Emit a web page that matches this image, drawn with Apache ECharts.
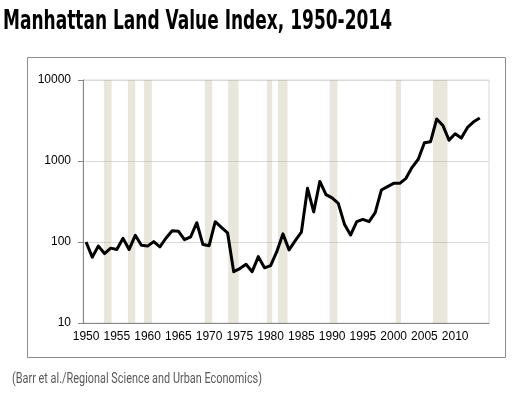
<!DOCTYPE html>
<html><head><meta charset="utf-8">
<script src="https://cdn.jsdelivr.net/npm/echarts@6/dist/echarts.min.js"></script>
<style>html,body{margin:0;padding:0;background:#fff}#c{width:532px;height:398px}</style>
</head><body><div id="c"></div>
<script>
const years = [];
for (let y = 1950; y <= 2015; y++) years.push(String(y));
const indexValues = [100, 65, 89, 72, 84, 81, 111, 81, 121, 91,
  89, 101, 87, 112, 138, 136, 107, 116, 173, 93,
  90, 178, 152, 130, 43, 47, 53, 43, 66, 48,
  51, 76, 126, 80, 104, 132, 460, 235, 560, 385,
  350, 300, 166, 122, 178, 190, 178, 230, 438, 482,
  530, 530, 611, 836, 1050, 1680, 1730, 3300, 2750, 1810,
  2170, 1920, 2600, 3050, 3400];
const recessionStart = [1953.4, 1957.3, 1959.9, 1969.8, 1973.6, 1979.9, 1981.7, 1990.1, 2000.85, 2006.9];
const recessionEnd   = [1954.65, 1958.5, 1961.2, 1971.0, 1975.3, 1980.75, 1983.25, 1991.35, 2001.7, 2009.25];
const titleText = 'Manhattan Land Value Index, 1950-2014';
const sourceText = '(Barr et al./Regional Science and Urban Economics)';

const titleFont = 'bold 26px "DejaVu Sans"';
const sourceFont = '14px "Roboto"';
const ctx = document.createElement('canvas').getContext('2d');
function fitScale(text, font, width) { ctx.font = font; return width / ctx.measureText(text).width; }

const chart = echarts.init(document.getElementById('c'), null, {renderer: 'canvas'});
const areas = recessionStart.map((s, i) => [{xAxis: s}, {xAxis: recessionEnd[i]}]);
chart.setOption({
  animation: false,
  backgroundColor: '#fff',
  graphic: [
    {type: 'rect', shape: {x: 27.5, y: 57.5, width: 478, height: 300}, style: {fill: 'none', stroke: '#8c8c8c', lineWidth: 1}, z: -1},
    {type: 'text', x: 3, y: 9, scaleX: fitScale(titleText, titleFont, 389),
      style: {text: titleText, font: titleFont, fill: '#000', textVerticalAlign: 'top'}},
    {type: 'text', x: 12, y: 372, scaleX: fitScale(sourceText, sourceFont, 250),
      style: {text: sourceText, font: sourceFont, fill: '#595959', textVerticalAlign: 'top'}}
  ],
  grid: {left: 83, right: 43, top: 80, bottom: 75, show: true, borderColor: '#d9d9d9', borderWidth: 1, backgroundColor: 'transparent'},
  xAxis: [{
    type: 'category', data: years, boundaryGap: true,
    axisLine: {lineStyle: {color: '#868686'}},
    axisTick: {interval: 4, length: 5, lineStyle: {color: '#868686'}},
    axisLabel: {interval: 4, color: '#000', fontFamily: 'Liberation Sans', fontSize: 12, margin: 8,
      formatter: v => (v === '2015' ? '' : v)},
    splitLine: {show: false}
  }, {
    type: 'value', min: 1950, max: 2016, show: false
  }],
  yAxis: {
    type: 'log', logBase: 10, min: 10, max: 10000,
    axisLine: {show: true, lineStyle: {color: '#868686'}},
    axisTick: {show: true, length: 5, lineStyle: {color: '#868686'}},
    axisLabel: {color: '#000', fontFamily: 'Liberation Sans', fontSize: 12, margin: 12, formatter: v => String(v)},
    splitLine: {lineStyle: {color: '#d9d9d9'}}
  },
  series: [{
    type: 'line', data: indexValues, xAxisIndex: 0, symbol: 'none', z: 2,
    lineStyle: {color: '#000', width: 3, join: 'round'}
  }, {
    type: 'line', data: [], xAxisIndex: 1, symbol: 'none', z: 5, silent: true,
    markArea: {silent: true, itemStyle: {color: 'rgba(182,172,138,0.3)'}, data: areas}
  }]
});
</script></body></html>
